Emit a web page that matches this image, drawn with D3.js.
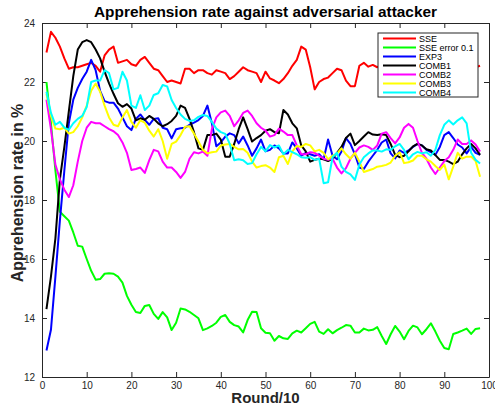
<!DOCTYPE html>
<html>
<head>
<meta charset="utf-8">
<script src="https://cdn.jsdelivr.net/npm/d3@7/dist/d3.min.js"></script>
<style>
  html, body { margin: 0; padding: 0; background: #fff; }
  svg { display: block; font-family: "Liberation Sans", Arial, Helvetica, sans-serif; }
</style>
</head>
<body>
<svg id="chart" width="495" height="410"></svg>
<script>
// Rounds 1..98 (x axis is Round/10)
const rounds = d3.range(1, 99);

const seriesNames = ["SSE", "SSE error 0.1", "EXP3", "COMB1", "COMB2", "COMB3", "COMB4"];
const seriesColors = ["#ff0000", "#00ff00", "#0000ff", "#000000", "#ff00ff", "#ffff00", "#00ffff"];

const xTicks = [0, 10, 20, 30, 40, 50, 60, 70, 80, 90, 100];
const yTicks = [12, 14, 16, 18, 20, 22, 24];

// Apprehension rate (%) per round, one array per strategy
const sse = [
  23.0, 23.7, 23.5, 23.2, 22.8, 22.45, 22.5, 22.5, 22.55, 22.6,
  22.65, 22.55, 22.35, 22.9, 23.1, 23.2, 22.65, 22.7, 22.75, 22.6,
  22.55, 22.75, 22.85, 22.65, 22.45, 22.4, 22.2, 22.0, 22.05, 22.0,
  21.95, 22.45, 22.45, 22.3, 22.4, 22.4, 22.3, 22.25, 22.4, 22.35,
  22.3, 22.1, 22.2, 22.35, 22.5, 22.4, 22.35, 22.3, 22.0, 22.35,
  22.12, 22.05, 21.96, 22.1, 22.3, 22.55, 22.75, 23.2, 23.1, 22.5,
  21.75, 22.0, 22.1, 22.15, 22.3, 22.45, 22.4, 22.05, 21.86, 21.86,
  22.55, 22.65, 22.52, 22.58, 22.5, 22.6, 22.4, 22.5, 22.7, 22.55,
  22.4, 22.6, 22.8, 22.5, 22.45, 22.6, 22.7, 22.5, 22.4, 22.55,
  22.6, 22.45, 22.5, 22.65, 22.5, 22.45, 22.5, 22.55
];
const sseError = [
  22.0, 20.6, 19.0, 17.6, 17.45, 17.3, 16.9, 16.45, 16.42, 16.0,
  15.6, 15.3, 15.32, 15.5, 15.52, 15.5, 15.4, 15.2, 14.75, 14.45,
  14.2, 14.17, 14.41, 14.44, 14.14, 13.97, 14.2, 14.02, 13.59, 13.84,
  14.32, 14.29, 14.21, 14.1, 13.99, 13.59, 13.65, 13.73, 13.84, 14.04,
  14.1, 13.87, 13.76, 13.71, 13.51, 13.93, 14.21, 14.2, 13.65, 13.5,
  13.48, 13.23, 13.39, 13.31, 13.29, 13.48, 13.57, 13.51, 13.65, 13.8,
  13.87, 13.54, 13.46, 13.62, 13.48, 13.59, 13.67, 13.76, 13.74, 13.51,
  13.51, 13.64, 13.58, 13.6, 13.69, 13.39, 13.12, 13.45, 13.73, 13.54,
  13.28, 13.56, 13.74, 13.68, 13.45, 13.62, 13.82, 13.54, 13.23, 12.98,
  12.94, 13.46, 13.51, 13.57, 13.64, 13.46, 13.63, 13.65
];
const exp3 = [
  12.9, 13.6, 15.4, 17.3, 19.0, 20.6, 21.4, 21.8, 22.1, 22.35,
  22.75, 22.4, 21.7, 21.35, 21.3, 21.3, 21.1, 20.8, 20.5, 20.37,
  20.75, 20.9, 20.71, 20.55, 20.75, 20.77, 20.45, 20.4, 20.09, 20.4,
  20.43, 20.45, 20.55, 20.62, 20.71, 20.85, 21.2, 20.6, 19.82, 19.95,
  20.15, 20.26, 20.2, 19.92, 20.15, 19.85, 19.5, 19.75, 20.05, 19.65,
  19.7, 19.85, 19.75, 19.58, 19.58, 19.95, 19.75, 19.5, 19.6, 19.55,
  19.5, 19.55, 19.38, 20.05, 19.5, 19.38, 19.64, 20.1, 19.9, 19.55,
  19.1, 19.05, 19.3, 19.5, 19.7, 19.95, 20.05, 19.58, 19.41, 19.68,
  19.6, 19.68, 19.8, 19.9, 19.85, 19.7, 19.62, 19.53, 19.8, 20.2,
  20.3, 20.1, 19.88, 19.78, 19.58, 19.8, 19.6, 19.53
];
const comb1 = [
  14.3, 15.4, 16.7, 18.7, 19.8, 21.0, 22.2, 23.1, 23.35, 23.42,
  23.35, 23.1, 22.8, 22.35, 21.95, 21.6, 21.28, 21.16, 21.25, 21.1,
  20.7, 20.77, 20.72, 20.85, 20.75, 20.6, 20.5, 20.57, 20.68, 20.85,
  21.2, 21.12, 20.75, 20.3, 19.75, 19.7, 20.2, 20.2, 20.25, 20.05,
  19.47, 19.47, 19.9, 20.4, 20.8, 20.4, 19.98, 20.1, 20.2, 20.35,
  20.4, 20.3, 20.26, 21.05, 20.9, 20.6, 20.43, 19.85, 19.65, 19.3,
  19.36, 19.4, 19.38, 19.32, 19.4, 19.6, 19.8, 20.1, 20.25, 19.86,
  20.0, 20.15, 20.3, 20.22, 20.2, 20.23, 20.2, 19.9, 19.53, 19.45,
  19.5, 19.65, 19.82, 19.9, 19.85, 19.72, 19.68, 19.52, 19.36, 19.36,
  19.3, 19.22, 19.3, 19.55, 19.75, 19.9, 19.75, 19.53
];
const comb2 = [
  21.4, 20.4, 19.2, 18.7, 18.35, 18.1, 18.5, 19.3, 20.0, 20.45,
  20.65, 20.6, 20.6, 20.5, 20.4, 20.33, 20.2, 19.95, 19.6, 19.02,
  19.05, 19.1, 18.92, 19.35, 19.7, 19.65, 19.3, 19.1, 19.1, 18.95,
  18.75, 18.95, 19.4, 19.62, 19.58, 19.64, 19.5, 20.4, 20.8, 20.97,
  21.03, 20.85, 20.5, 20.7, 20.95, 21.03, 20.85, 20.6, 20.45, 20.35,
  20.15, 20.2, 20.42, 20.32, 20.2, 20.2, 19.85, 19.55, 19.55, 19.62,
  19.6, 19.5, 19.4, 19.36, 19.4, 19.1, 18.9, 19.08, 19.4, 19.6,
  19.78, 19.85, 19.8, 19.7, 19.85, 20.25, 20.3, 20.1, 19.92, 20.12,
  20.45, 20.58, 20.45, 20.0, 19.6, 19.4, 19.1, 18.88, 19.1, 19.32,
  19.45, 19.7, 20.05, 19.9, 19.9, 20.02, 19.88, 19.64
];
const comb3 = [
  21.6, 20.85, 20.42, 20.4, 20.45, 20.25, 20.3, 20.5, 20.8, 21.2,
  21.7, 21.95, 21.67, 21.2, 20.8, 20.55, 20.5, 20.8, 21.05, 20.65,
  20.45, 20.7, 20.62, 20.35, 20.15, 20.4, 20.0, 19.4, 19.9, 19.98,
  20.2, 20.48, 20.5, 20.25, 19.98, 19.7, 19.58, 19.62, 19.64, 19.85,
  19.88, 19.9, 19.8, 19.72, 19.73, 19.6, 19.3, 19.1, 19.15, 19.18,
  19.1, 18.95, 19.45, 19.5, 19.22, 19.65, 19.83, 19.8, 19.9, 19.85,
  19.65, 19.7, 19.6, 19.38, 19.5, 19.57, 19.75, 19.55, 19.4, 19.6,
  19.3, 18.95, 19.0, 19.05, 19.13, 19.15, 19.19, 19.27, 19.5, 19.62,
  19.25, 19.28, 19.34, 19.5, 19.5, 19.38, 19.3, 19.15, 19.02, 19.2,
  18.7, 19.13, 19.6, 19.4, 19.47, 19.47, 19.32, 18.79
];
const comb4 = [
  21.67, 20.95, 20.55, 20.65, 20.45, 20.38, 20.6, 20.75, 20.85, 21.15,
  22.0, 22.05, 22.05, 22.4, 22.3, 21.75, 21.8, 22.35, 22.05, 21.2,
  21.12, 21.55, 21.05, 21.2, 21.56, 21.62, 21.9, 21.85, 21.39, 21.12,
  20.9, 20.75, 20.68, 20.7, 20.82, 20.88, 20.85, 20.65, 20.42, 20.3,
  20.24, 19.9, 19.35, 19.38, 19.35, 19.22, 19.25, 19.55, 19.8, 19.65,
  19.86, 19.78, 19.85, 19.55, 19.7, 19.62, 19.55, 19.45, 19.43, 19.45,
  19.36, 19.4, 18.57, 18.6, 19.45, 19.6, 19.13, 18.95, 18.87, 18.68,
  19.2, 19.45, 19.58, 19.68, 19.68, 19.64, 19.72, 19.7, 19.82, 19.9,
  19.7, 19.38, 19.55, 19.63, 19.58, 19.62, 19.5, 19.7, 20.2, 20.55,
  20.7, 20.56, 20.7, 20.8, 20.6, 19.6, 19.36, 19.24
];

const seriesValues = [sse, sseError, exp3, comb1, comb2, comb3, comb4];

const svg = d3.select("#chart");
const axisColor = "#262626";
const fontStack = '"Liberation Sans", Arial, Helvetica, sans-serif';

const x = d3.scaleLinear().domain([0, 100]).range([42, 489]);
const y = d3.scaleLinear().domain([12, 24]).range([377, 23]);

// Axes with inward ticks on all four sides
const gBottom = svg.append("g").attr("transform", `translate(0,${y(12)})`)
  .call(d3.axisBottom(x).tickValues(xTicks).tickSizeInner(-5).tickSizeOuter(0).tickPadding(5));
const gTop = svg.append("g").attr("transform", `translate(0,${y(24)})`)
  .call(d3.axisTop(x).tickValues(xTicks).tickSizeInner(-5).tickSizeOuter(0).tickFormat(""));
const gLeft = svg.append("g").attr("transform", `translate(${x(0)},0)`)
  .call(d3.axisLeft(y).tickValues(yTicks).tickSizeInner(-5).tickSizeOuter(0).tickPadding(7));
const gRight = svg.append("g").attr("transform", `translate(${x(100)},0)`)
  .call(d3.axisRight(y).tickValues(yTicks).tickSizeInner(-5).tickSizeOuter(0).tickFormat(""));

[gBottom, gTop, gLeft, gRight].forEach(g => {
  g.select(".domain").attr("stroke", axisColor).attr("stroke-width", 1);
  g.selectAll(".tick line").attr("stroke", axisColor).attr("stroke-width", 1);
  g.selectAll(".tick text").attr("fill", axisColor)
    .style("font-family", fontStack).style("font-size", "10px");
});

// Series lines
const line = d3.line()
  .x((d, i) => x(rounds[i]))
  .y(d => y(d));

svg.append("g").selectAll("path.series")
  .data(seriesValues)
  .join("path")
  .attr("class", "series")
  .attr("fill", "none")
  .attr("stroke", (d, i) => seriesColors[i])
  .attr("stroke-width", 2)
  .attr("stroke-linejoin", "round")
  .attr("d", d => line(d));

// Title and axis labels
svg.append("text")
  .attr("x", (x(0) + x(100)) / 2).attr("y", 17)
  .attr("text-anchor", "middle")
  .attr("font-weight", "bold").attr("font-size", 15.4).attr("fill", "#000")
  .text("Apprehension rate against adversarial attacker");

svg.append("text")
  .attr("x", (x(0) + x(100)) / 2).attr("y", 403)
  .attr("text-anchor", "middle")
  .attr("font-weight", "bold").attr("font-size", 15).attr("fill", "#262626")
  .text("Round/10");

svg.append("text")
  .attr("transform", "translate(22.5,193) rotate(-90)")
  .attr("text-anchor", "middle")
  .attr("font-weight", "bold").attr("font-size", 16).attr("fill", "#262626")
  .text("Apprehension rate in %");

// Legend
const legend = svg.append("g").attr("transform", "translate(378,33)");
legend.append("rect")
  .attr("width", 100).attr("height", 64)
  .attr("fill", "#fff").attr("stroke", axisColor).attr("stroke-width", 1);
const rows = legend.selectAll("g.row")
  .data(seriesNames)
  .join("g")
  .attr("class", "row")
  .attr("transform", (d, i) => `translate(0,${5.5 + i * 9})`);
rows.append("line")
  .attr("x1", 5).attr("x2", 38)
  .attr("stroke", (d, i) => seriesColors[i]).attr("stroke-width", 2);
rows.append("text")
  .attr("x", 41).attr("dy", "0.35em")
  .attr("font-size", 9).attr("fill", "#000")
  .text(d => d);
</script>
</body>
</html>
